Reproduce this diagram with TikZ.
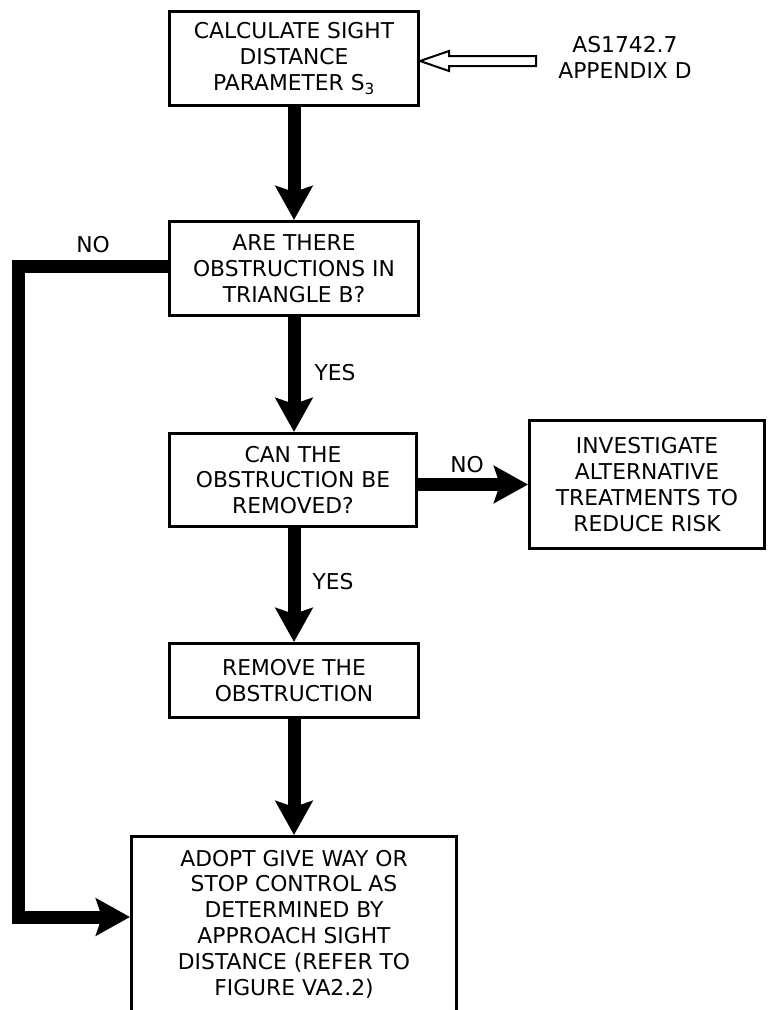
\documentclass[tikz,border=0pt]{standalone}
\usepackage{fontspec}
\setmainfont{DejaVu Sans}
\usetikzlibrary{arrows.meta,calc}
\tikzset{
  box/.style={draw=black, line width=3pt, fill=white, align=center, inner sep=2pt,
    font=\fontsize{21.8pt}{25.8pt}\selectfont},
  conn/.style={line width=13pt, -{Stealth[width=37pt,length=34pt,inset=6pt]}},
  lbl/.style={font=\fontsize{21.8pt}{25.8pt}\selectfont, inner sep=0pt},
  hollow/.style={draw=black, line width=2pt, fill=white, line join=miter}
}
\begin{document}
\begin{tikzpicture}[x=1pt,y=-1pt]
\useasboundingbox (0,0) rectangle (768,1010);

\node[box, minimum width=249pt, minimum height=94pt] (b1) at (294,58.5)
  {CALCULATE SIGHT\\DISTANCE\\PARAMETER S\textsubscript{3}};
\node[box, minimum width=249pt, minimum height=94pt] (b2) at (294,268.5)
  {ARE THERE\\OBSTRUCTIONS IN\\TRIANGLE B?};
\node[box, minimum width=247pt, minimum height=93pt] (b3) at (293,480)
  {CAN THE\\OBSTRUCTION BE\\REMOVED?};
\node[box, minimum width=235pt, minimum height=128pt] (b4) at (647,484.5)
  {INVESTIGATE\\ALTERNATIVE\\TREATMENTS TO\\REDUCE RISK};
\node[box, minimum width=249pt, minimum height=74pt] (b5) at (294,680.5)
  {REMOVE THE\\OBSTRUCTION};
\node[box, minimum width=325pt, minimum height=175pt] (b6) at (294,924)
  {ADOPT GIVE WAY OR\\STOP CONTROL AS\\DETERMINED BY\\APPROACH SIGHT\\DISTANCE (REFER TO\\FIGURE VA2.2)};

\node[lbl, align=center] (ref) at (625,57.5) {AS1742.7\\APPENDIX D};

% hollow arrow from reference to box 1
\coordinate (tipA) at ($(b1.east)+(0,2.5)$);
\draw[hollow] (tipA) -- ++(29,-10) -- ++(0,5) -- ++(87,0) -- ++(0,10) -- ++(-87,0) -- ++(0,5) -- cycle;

% main connectors
\draw[conn] (b1.south) -- (b2.north);
\draw[conn] (b2.south) -- (b3.north -| b2.south);
\draw[conn] (b3.south -| b5.north) -- (b5.north);
\draw[conn] (b5.south) -- (b6.north);
\draw[conn] (b3.east |- b4.west) -- (b4.west);

\coordinate (k1) at (18,266);
\coordinate (k2) at (18,917);
\draw[conn] (b2.west |- k1) -- (k1) -- (k2) -- (k2 -| b6.west);

% labels
\node[lbl] (no1) at (93,245) {NO};
\node[lbl] (yes1) at (335,373) {YES};
\node[lbl] (no2) at (467,465) {NO};
\node[lbl] (yes2) at (333,582) {YES};
\end{tikzpicture}
\end{document}
